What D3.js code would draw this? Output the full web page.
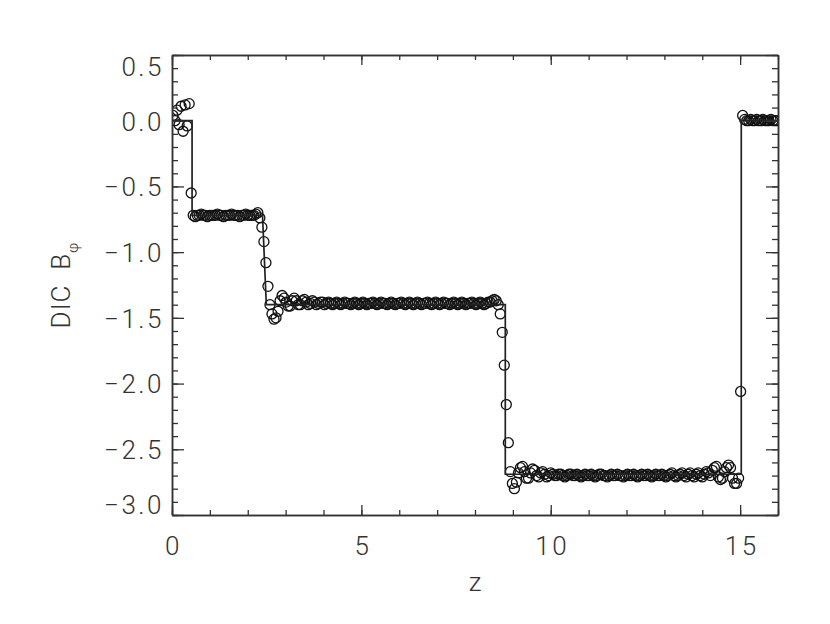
<!DOCTYPE html>
<html><head><meta charset="utf-8">
<script src="https://cdn.jsdelivr.net/npm/d3@7"></script>
<style>body{margin:0;background:#fff}</style>
</head><body>
<svg id="c" width="830" height="624"></svg>
<script>
// ---- data ----
const xTicks = [0, 5, 10, 15];
const xTickLabels = ["0", "5", "10", "15"];
const yTicks = [0.5, 0.0, -0.5, -1.0, -1.5, -2.0, -2.5, -3.0];
const yTickLabels = ["0.5", "0.0", "\u22120.5", "\u22121.0", "\u22121.5", "\u22122.0", "\u22122.5", "\u22123.0"];
const xTitle = "z";
const yTitle = "DIC  B";
const yTitleSub = "\u03c6";

// exact solution (solid line)
const lineZ = [0, 0.53, 0.53, 2.39, 2.49, 8.80, 8.80, 15.03, 15.03, 16];
const lineB = [0, 0, -0.72, -0.72, -1.40, -1.40, -2.69, -2.69, 0.00, 0.00];

// numerical solution (circles), one value per grid cell on [0,16]
const zRange = [0, 16];
const bphi = [
  0.04, 0.00, 0.08, -0.03, 0.11, -0.08, 0.12, -0.04, 0.13, -0.55,
  -0.72, -0.73, -0.72, -0.72, -0.71, -0.72, -0.72, -0.73, -0.72, -0.72,
  -0.72, -0.72, -0.71, -0.72, -0.72, -0.73, -0.72, -0.72, -0.72, -0.71,
  -0.72, -0.72, -0.72, -0.73, -0.72, -0.72, -0.71, -0.72, -0.72, -0.72,
  -0.72, -0.71, -0.70, -0.74, -0.81, -0.92, -1.08, -1.26, -1.40, -1.47,
  -1.51, -1.50, -1.45, -1.37, -1.33, -1.35, -1.38, -1.41, -1.41, -1.37,
  -1.35, -1.37, -1.40, -1.40, -1.37, -1.36, -1.38, -1.40, -1.39, -1.37,
  -1.38, -1.40, -1.39, -1.38, -1.38, -1.40, -1.39, -1.38, -1.39, -1.40,
  -1.39, -1.38, -1.39, -1.40, -1.39, -1.38, -1.39, -1.39, -1.40, -1.39,
  -1.38, -1.39, -1.40, -1.39, -1.38, -1.39, -1.40, -1.39, -1.39, -1.38,
  -1.39, -1.40, -1.39, -1.38, -1.39, -1.39, -1.40, -1.39, -1.38, -1.39,
  -1.40, -1.39, -1.39, -1.38, -1.39, -1.40, -1.39, -1.38, -1.39, -1.40,
  -1.39, -1.38, -1.39, -1.40, -1.39, -1.39, -1.38, -1.39, -1.40, -1.39,
  -1.38, -1.39, -1.40, -1.39, -1.38, -1.39, -1.39, -1.40, -1.39, -1.38,
  -1.39, -1.40, -1.39, -1.38, -1.39, -1.40, -1.39, -1.39, -1.38, -1.39,
  -1.40, -1.39, -1.38, -1.39, -1.40, -1.39, -1.38, -1.38, -1.37, -1.36,
  -1.37, -1.40, -1.47, -1.61, -1.86, -2.16, -2.45, -2.67, -2.76, -2.80,
  -2.75, -2.68, -2.64, -2.63, -2.67, -2.72, -2.72, -2.68, -2.65, -2.66,
  -2.70, -2.71, -2.68, -2.67, -2.69, -2.71, -2.70, -2.68, -2.69, -2.70,
  -2.70, -2.69, -2.69, -2.70, -2.71, -2.70, -2.69, -2.69, -2.70, -2.70,
  -2.69, -2.70, -2.71, -2.70, -2.69, -2.70, -2.70, -2.69, -2.70, -2.71,
  -2.70, -2.69, -2.69, -2.70, -2.70, -2.71, -2.70, -2.69, -2.70, -2.70,
  -2.69, -2.70, -2.70, -2.71, -2.70, -2.69, -2.70, -2.70, -2.69, -2.70,
  -2.71, -2.70, -2.69, -2.70, -2.70, -2.69, -2.70, -2.71, -2.70, -2.69,
  -2.70, -2.70, -2.69, -2.70, -2.71, -2.70, -2.69, -2.68, -2.70, -2.71,
  -2.70, -2.69, -2.68, -2.70, -2.71, -2.69, -2.68, -2.70, -2.71, -2.69,
  -2.68, -2.70, -2.71, -2.69, -2.67, -2.68, -2.70, -2.66, -2.64, -2.63,
  -2.71, -2.73, -2.72, -2.67, -2.64, -2.62, -2.64, -2.72, -2.76, -2.76,
  -2.72, -2.06, 0.04, 0.01, 0.00, 0.00, 0.01, 0.00, 0.00, 0.01,
  0.00, 0.00, 0.01, 0.00, 0.00, 0.00, 0.01, 0.00, 0.00, 0.00
];

// ---- layout ----
const L = 172, R = 778, T = 55, B = 515;
const svg = d3.select("#c");
const x = d3.scaleLinear().domain(zRange).range([L, R]);
const y = d3.scaleLinear().domain([-3.0, 0.5]).range([B, T]);

const dz = (zRange[1] - zRange[0]) / bphi.length;
const pts = bphi.map((v, i) => ({ z: zRange[0] + (i + 0.5) * dz, b: v }));

const FONT = "Roboto, 'Liberation Sans', sans-serif";
const ink = "#333";

svg.append("defs").append("clipPath").attr("id", "clip")
  .append("rect").attr("x", L).attr("y", T).attr("width", R - L).attr("height", B - T);

const plot = svg.append("g").attr("clip-path", "url(#clip)");
plot.selectAll("circle").data(pts).join("circle")
  .attr("cx", d => x(d.z)).attr("cy", d => y(d.b)).attr("r", 5.0)
  .attr("fill", "none").attr("stroke", "#111").attr("stroke-width", 1.3);

plot.append("path")
  .datum(lineZ.map((z, i) => [z, lineB[i]]))
  .attr("d", d3.line().x(d => x(d[0])).y(d => y(d[1])))
  .attr("fill", "none").attr("stroke", "#222").attr("stroke-width", 1.7);

// ---- axes ----
const xMinor = d3.range(zRange[0], zRange[1] + 1);
const yMinor = d3.range(0, 36).map(i => -3 + i * 0.1);

function styleAxis(g) {
  g.selectAll("path.domain").attr("stroke", ink).attr("stroke-width", 1.5);
  g.selectAll(".tick line").attr("stroke", ink).attr("stroke-width", 1.3);
  g.selectAll("text").attr("font-family", FONT).attr("font-size", 26)
    .attr("font-weight", 300).attr("fill", ink).attr("letter-spacing", "2.5px");
}

// bottom
svg.append("g").attr("transform", `translate(0,${B})`)
  .call(d3.axisBottom(x).tickValues(xMinor).tickSize(-5).tickSizeOuter(0).tickFormat(""))
  .call(styleAxis);
const xl = svg.append("g").attr("transform", `translate(0,${B})`)
  .call(d3.axisBottom(x).tickValues(xTicks).tickSize(-10).tickSizeOuter(0).tickPadding(22)
    .tickFormat((d, i) => xTickLabels[i]))
  .call(styleAxis);
xl.selectAll(".tick text").attr("dx", "1px");
// top
svg.append("g").attr("transform", `translate(0,${T})`)
  .call(d3.axisTop(x).tickValues(xMinor).tickSize(-5).tickSizeOuter(0).tickFormat(""))
  .call(styleAxis);
svg.append("g").attr("transform", `translate(0,${T})`)
  .call(d3.axisTop(x).tickValues(xTicks).tickSize(-10).tickSizeOuter(0).tickFormat(""))
  .call(styleAxis);
// left
svg.append("g").attr("transform", `translate(${L},0)`)
  .call(d3.axisLeft(y).tickValues(yMinor).tickSize(-6).tickSizeOuter(0).tickFormat(""))
  .call(styleAxis);
const yl = svg.append("g").attr("transform", `translate(${L},0)`)
  .call(d3.axisLeft(y).tickValues(yTicks).tickSize(-12).tickSizeOuter(0).tickPadding(8)
    .tickFormat((d, i) => yTickLabels[i]))
  .call(styleAxis);
yl.selectAll(".tick text").attr("dy", (d, i) => i === 0 ? "0.78em" : (i === yTicks.length - 1 ? "-0.05em" : "0.36em"));
// right
svg.append("g").attr("transform", `translate(${R},0)`)
  .call(d3.axisRight(y).tickValues(yMinor).tickSize(-6).tickSizeOuter(0).tickFormat(""))
  .call(styleAxis);
svg.append("g").attr("transform", `translate(${R},0)`)
  .call(d3.axisRight(y).tickValues(yTicks).tickSize(-12).tickSizeOuter(0).tickFormat(""))
  .call(styleAxis);

// titles
svg.append("text").attr("x", (L + R) / 2).attr("y", 591).attr("text-anchor", "middle")
  .attr("font-family", FONT).attr("font-size", 26).attr("font-weight", 300).attr("fill", ink)
  .text(xTitle);

const yt = svg.append("text").attr("transform", `translate(70,${(T + B) / 2}) rotate(-90)`)
  .attr("text-anchor", "middle").attr("font-family", FONT).attr("font-size", 26)
  .attr("font-weight", 300).attr("fill", ink).style("white-space", "pre")
  .attr("letter-spacing", "1px");
yt.append("tspan").text(yTitle);
yt.append("tspan").attr("dy", 8).attr("font-size", 15).text(yTitleSub);
</script>
</body></html>
